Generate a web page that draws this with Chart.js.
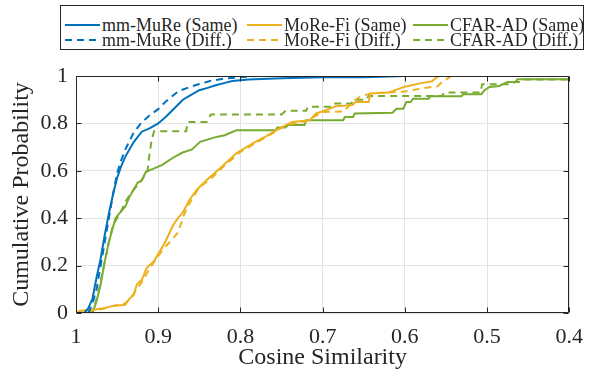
<!DOCTYPE html>
<html>
<head>
<meta charset="utf-8">
<script src="https://cdn.jsdelivr.net/npm/chart.js@4.4.1/dist/chart.umd.min.js"></script>
<style>
  html, body { margin: 0; padding: 0; background: #fff; }
  #wrap { position: relative; width: 594px; height: 372px; }
  #legend {
    position: absolute; left: 60px; top: 5px; width: 522px; height: 43px;
    border: 1px solid #262626; background: #fff;
    font-family: 'Liberation Serif', serif; font-size: 18px; color: #262626;
  }
  .item { position: absolute; display: flex; align-items: center; height: 16px; line-height: 16px; white-space: nowrap; }
  .item svg { margin-right: 2px; flex: none; }
</style>
</head>
<body>
<div id="wrap">
  <canvas id="chart" width="594" height="372"></canvas>
  <div id="legend"></div>
</div>
<script>
const FONT = "'Liberation Serif', serif"
const INK = '#262626'

const METHODS = ['mm-MuRe', 'MoRe-Fi', 'CFAR-AD']
const CONDITIONS = ['Same', 'Diff.']
const COLORS = ['#0072BD', '#EDB120', '#77AC30']

const X_TICKS = [1, 0.9, 0.8, 0.7, 0.6, 0.5, 0.4]
const Y_TICKS = [0, 0.2, 0.4, 0.6, 0.8, 1]

// mm-MuRe
const mmSameX = [1.0, 0.99, 0.985, 0.98, 0.975, 0.97, 0.965, 0.96, 0.955, 0.95, 0.945, 0.94, 0.93, 0.92, 0.91, 0.9, 0.89, 0.88, 0.87, 0.86, 0.85, 0.84, 0.83, 0.82, 0.81, 0.79, 0.75, 0.7, 0.65, 0.6, 0.4]
const mmSameY = [0, 0, 0.02, 0.06, 0.15, 0.23, 0.33, 0.42, 0.5, 0.57, 0.62, 0.66, 0.72, 0.765, 0.78, 0.80, 0.83, 0.865, 0.9, 0.92, 0.94, 0.95, 0.961, 0.97, 0.979, 0.985, 0.99, 0.995, 0.995, 1.0, 1.0]
const mmDiffX = [1.0, 0.985, 0.98, 0.975, 0.97, 0.965, 0.96, 0.955, 0.95, 0.945, 0.94, 0.93, 0.92, 0.91, 0.9, 0.89, 0.875, 0.855, 0.837, 0.82, 0.8, 0.78, 0.4]
const mmDiffY = [0, 0, 0.04, 0.1, 0.2, 0.3, 0.4, 0.5, 0.59, 0.645, 0.69, 0.76, 0.805, 0.835, 0.86, 0.895, 0.937, 0.961, 0.979, 0.989, 0.995, 1.0, 1.0]

// MoRe-Fi
const mfSameX = [1.0, 0.995, 0.98, 0.966, 0.955, 0.94, 0.935, 0.93, 0.926, 0.92, 0.914, 0.905, 0.898, 0.89, 0.882, 0.876, 0.87, 0.862, 0.853, 0.841, 0.825, 0.805, 0.785, 0.769, 0.753, 0.737, 0.716, 0.708, 0.696, 0.684, 0.664, 0.66, 0.644, 0.642, 0.62, 0.6, 0.58, 0.567, 0.561, 0.558, 0.4]
const mfSameY = [0, 0.01, 0.014, 0.02, 0.03, 0.035, 0.06, 0.075, 0.12, 0.14, 0.19, 0.22, 0.26, 0.31, 0.37, 0.4, 0.425, 0.477, 0.52, 0.561, 0.61, 0.674, 0.716, 0.745, 0.778, 0.806, 0.813, 0.842, 0.856, 0.872, 0.877, 0.89, 0.89, 0.926, 0.93, 0.955, 0.97, 0.978, 0.995, 1.0, 1.0]
const mfDiffX = [1.0, 0.99, 0.97, 0.955, 0.94, 0.93, 0.92, 0.91, 0.9, 0.894, 0.883, 0.876, 0.868, 0.864, 0.859, 0.852, 0.846, 0.835, 0.82, 0.8, 0.78, 0.76, 0.745, 0.735, 0.72, 0.7, 0.675, 0.66, 0.653, 0.64, 0.62, 0.6, 0.58, 0.56, 0.555, 0.545, 0.543, 0.4]
const mfDiffY = [0, 0.01, 0.015, 0.03, 0.04, 0.08, 0.13, 0.19, 0.24, 0.27, 0.31, 0.34, 0.42, 0.45, 0.48, 0.52, 0.54, 0.57, 0.62, 0.68, 0.72, 0.76, 0.792, 0.8, 0.81, 0.848, 0.85, 0.9, 0.915, 0.927, 0.93, 0.935, 0.947, 0.957, 0.975, 0.996, 1.0, 1.0]

// CFAR-AD
const cfSameX = [1.0, 0.98, 0.975, 0.97, 0.966, 0.96, 0.952, 0.945, 0.94, 0.935, 0.93, 0.925, 0.92, 0.915, 0.905, 0.895, 0.883, 0.871, 0.859, 0.849, 0.829, 0.819, 0.805, 0.757, 0.755, 0.745, 0.742, 0.722, 0.72, 0.675, 0.673, 0.663, 0.661, 0.615, 0.61, 0.602, 0.598, 0.593, 0.59, 0.571, 0.569, 0.531, 0.529, 0.507, 0.503, 0.497, 0.485, 0.481, 0.475, 0.465, 0.463, 0.4]
const cfSameY = [0, 0, 0.05, 0.12, 0.2, 0.3, 0.4, 0.43, 0.45, 0.49, 0.52, 0.55, 0.56, 0.596, 0.61, 0.625, 0.653, 0.676, 0.69, 0.722, 0.743, 0.75, 0.771, 0.771, 0.783, 0.783, 0.793, 0.793, 0.813, 0.813, 0.827, 0.827, 0.842, 0.845, 0.862, 0.862, 0.89, 0.89, 0.904, 0.904, 0.915, 0.915, 0.923, 0.923, 0.94, 0.954, 0.958, 0.965, 0.975, 0.976, 0.986, 0.986]
const cfDiffX = [1.0, 0.985, 0.978, 0.972, 0.966, 0.96, 0.955, 0.95, 0.945, 0.94, 0.93, 0.92, 0.913, 0.911, 0.908, 0.905, 0.866, 0.864, 0.841, 0.836, 0.75, 0.745, 0.72, 0.718, 0.69, 0.687, 0.665, 0.662, 0.647, 0.644, 0.555, 0.552, 0.508, 0.506, 0.47, 0.466, 0.46, 0.455, 0.4]
const cfDiffY = [0, 0, 0.02, 0.1, 0.2, 0.3, 0.37, 0.4, 0.43, 0.47, 0.52, 0.56, 0.6, 0.66, 0.73, 0.767, 0.767, 0.806, 0.806, 0.838, 0.838, 0.853, 0.853, 0.87, 0.87, 0.884, 0.884, 0.9, 0.9, 0.916, 0.916, 0.93, 0.93, 0.965, 0.965, 0.975, 0.975, 0.985, 0.985]

const SERIES = [
  [[mmSameX, mmSameY], [mmDiffX, mmDiffY]],
  [[mfSameX, mfSameY], [mfDiffX, mfDiffY]],
  [[cfSameX, cfSameY], [cfDiffX, cfDiffY]]
]
const DASH = [7, 5]

const datasets = []
METHODS.forEach((m, i) => {
  CONDITIONS.forEach((c, j) => {
    const [xs, ys] = SERIES[i][j]
    datasets.push({
      label: `${m} (${c})`,
      data: xs.map((x, k) => ({ x, y: ys[k] })),
      borderColor: COLORS[i],
      borderWidth: 2,
      borderDash: j === 1 ? DASH : [],
      showLine: true,
      pointRadius: 0,
      tension: 0
    })
  })
})

// box + inward ticks like the original figure
const framePlugin = {
  id: 'frame',
  afterDraw(chart) {
    const { ctx, chartArea: a, scales: { x, y } } = chart
    const L = Math.round(a.left) + 0.5, R = Math.round(a.right) - 0.5
    const T = Math.round(a.top) + 0.5, B = Math.round(a.bottom) - 0.5
    ctx.save()
    ctx.strokeStyle = INK
    ctx.lineWidth = 1
    ctx.beginPath()
    ctx.rect(L, T, R - L, B - T)
    X_TICKS.forEach(v => {
      const px = Math.round(x.getPixelForValue(v)) + 0.5
      ctx.moveTo(px, B); ctx.lineTo(px, B - 5)
      ctx.moveTo(px, T); ctx.lineTo(px, T + 5)
    })
    Y_TICKS.forEach(v => {
      const py = Math.round(y.getPixelForValue(v)) + 0.5
      ctx.moveTo(L, py); ctx.lineTo(L + 5, py)
      ctx.moveTo(R, py); ctx.lineTo(R - 5, py)
    })
    ctx.stroke()
    ctx.restore()
  }
}

new Chart(document.getElementById('chart').getContext('2d'), {
  type: 'scatter',
  data: { datasets },
  plugins: [framePlugin],
  options: {
    responsive: false,
    animation: false,
    layout: { padding: { top: 76, right: 5, left: 0, bottom: 0 } },
    plugins: { legend: { display: false }, tooltip: { enabled: false } },
    scales: {
      x: {
        type: 'linear', reverse: true, min: 0.4, max: 1,
        afterBuildTicks: s => { s.ticks = X_TICKS.map(v => ({ value: v })) },
        afterFit: s => { s.height = 59 },
        grid: { color: '#e3e3e3', drawTicks: false },
        border: { display: false },
        ticks: { font: { family: FONT, size: 22 }, color: INK, padding: 11, maxRotation: 0, autoSkip: false, callback: v => String(+v.toFixed(1)) },
        title: { display: true, text: 'Cosine Similarity', font: { family: FONT, size: 24 }, color: INK, padding: { top: 0, bottom: 0 } }
      },
      y: {
        min: 0, max: 1,
        afterBuildTicks: s => { s.ticks = Y_TICKS.map(v => ({ value: v })) },
        afterFit: s => { s.width = 76 },
        grid: { color: '#e3e3e3', drawTicks: false },
        border: { display: false },
        ticks: { font: { family: FONT, size: 22 }, color: INK, padding: 8, callback: v => String(+v.toFixed(1)) },
        title: { display: true, text: 'Cumulative Probability', font: { family: FONT, size: 24 }, color: INK, padding: { top: 7, bottom: 0 } }
      }
    }
  }
})

// legend: columns are methods, rows are Same / Diff.
const COL_LEFT = [4, 186, 352]
const ROW_TOP = [11, 26]
const legendEl = document.getElementById('legend')
legendEl.innerHTML = METHODS.map((m, i) => CONDITIONS.map((c, j) => `
  <div class="item" style="left:${COL_LEFT[i]}px; top:${ROW_TOP[j]}px;">
    <svg width="35" height="16"><line x1="0" y1="8" x2="35" y2="8" stroke="${COLORS[i]}" stroke-width="2" ${j === 1 ? `stroke-dasharray="${DASH.join(' ')}"` : ''}/></svg>
    <span>${m} (${c})</span>
  </div>`).join('')).join('')
</script>
</body>
</html>
